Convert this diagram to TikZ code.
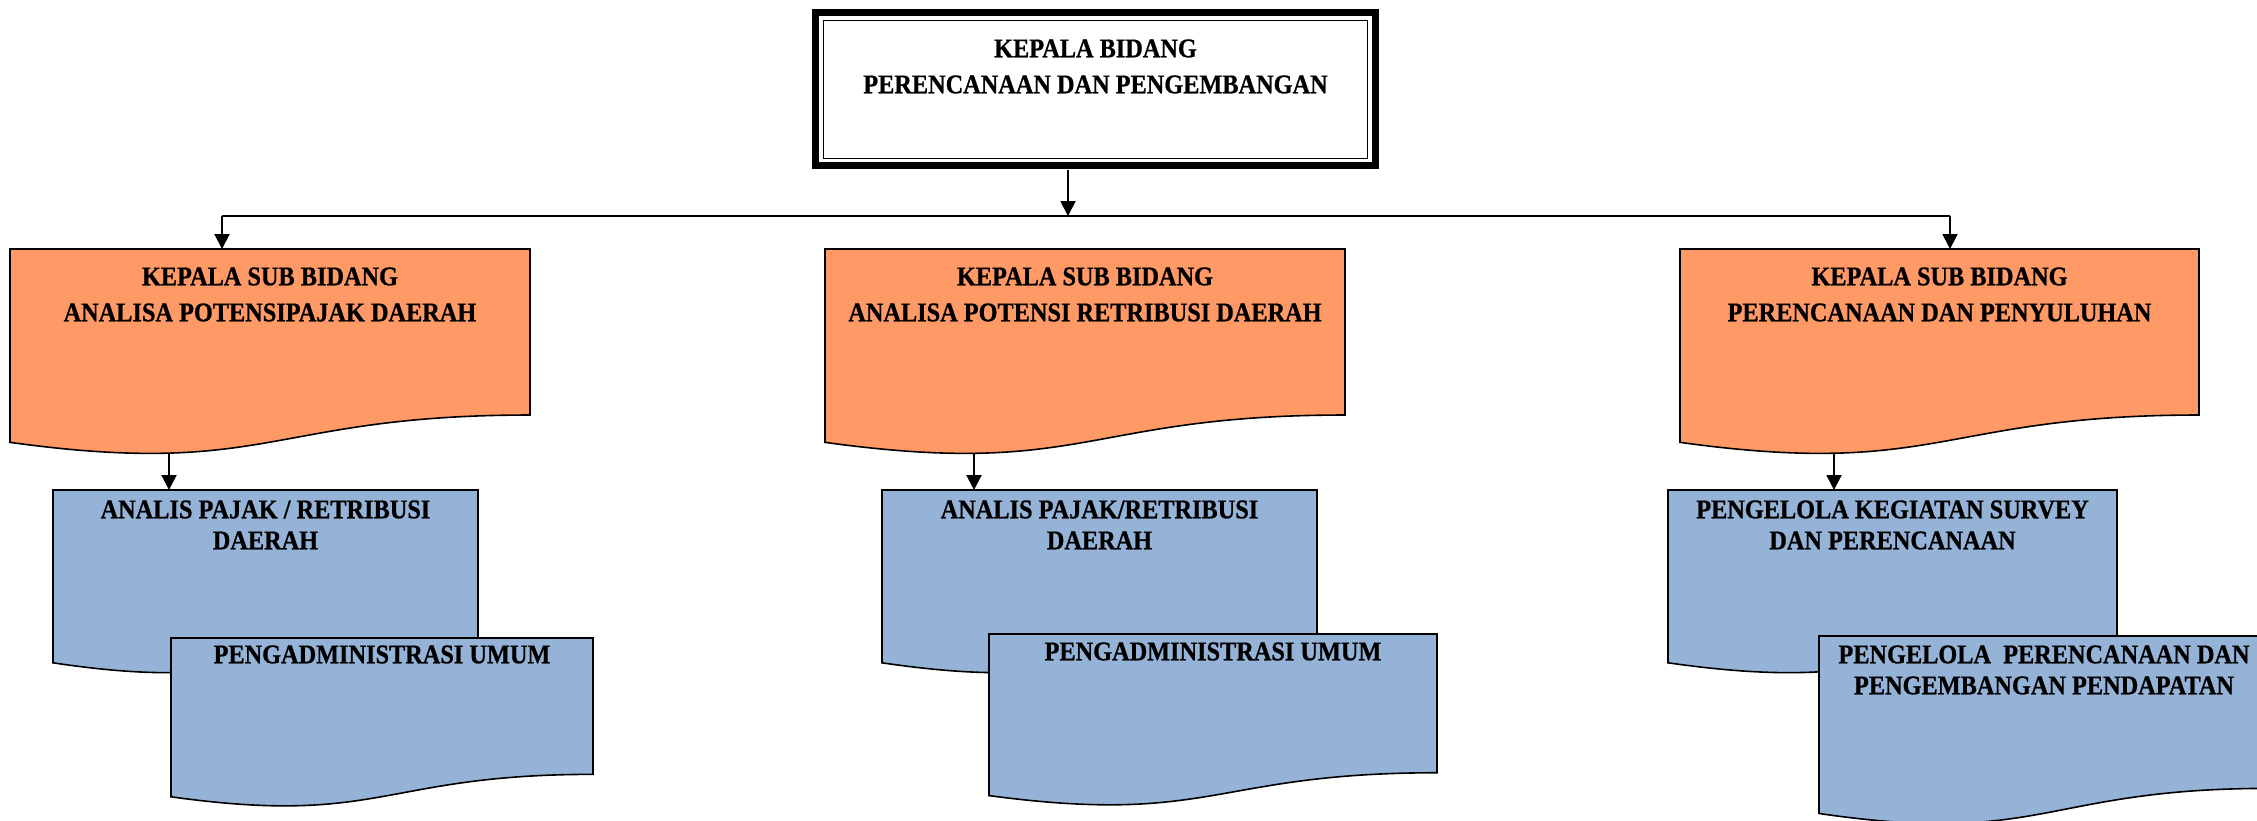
\documentclass[tikz,border=0pt]{standalone}
\usepackage{fontspec}
\newfontfamily\boxfont{Liberation Serif}[FakeStretch=0.9,FakeBold=0.8]
\usetikzlibrary{arrows.meta,backgrounds}
\definecolor{orangec}{RGB}{255,153,102}
\definecolor{bluec}{RGB}{149,179,215}
\tikzset{
  boxline/.style={draw=black, line width=0.8pt, line join=miter},
  lbl/.style={font=\boxfont\bfseries\fontsize{13.5pt}{18pt}\selectfont, align=center, inner sep=0pt},
  blbl/.style={font=\boxfont\bfseries\fontsize{13.5pt}{15.5pt}\selectfont, align=center, inner sep=0pt},
  conn/.style={draw=black, line width=1pt},
  arr/.style={conn, -{Triangle[width=7.5pt,length=7.5pt]}},
}
% name, x, y, w, h, fill colour, text style, text offset, text
\newcommand\docbox[9]{%
  \path[boxline, fill=#6] (#2,#3) -- ({#2+#4},#3) -- ({#2+#4},{#3+0.802*#5})
    .. controls ({#2+0.5*#4},{#3+0.802*#5}) and ({#2+0.5*#4},{#3+1.1075*#5}) .. (#2,{#3+0.934*#5}) -- cycle;
  \node[inner sep=0pt, minimum width={#4*0.5pt}, minimum height={#5*0.5pt}, anchor=north west] (#1) at (#2,#3) {};
  \node[#7, anchor=north] (#1-t) at ({#2+0.5*#4},{#3+#8}) {#9};
}
\begin{document}
\begin{tikzpicture}[x=0.5pt,y=-0.5pt]
\clip (0,0) rectangle (2257,820);
% top box
\node[inner sep=0pt, minimum width={567*0.5pt}, minimum height={160*0.5pt}, anchor=north west] (kb) at (812,9) {};
\draw[line width=3.5pt] (815.5,12.5) rectangle (1375.5,165.5);
\draw[line width=0.85pt] (823.5,20.5) rectangle (1367.5,158.5);
\node[lbl, anchor=north] (kb-t) at (1095.5,39) {KEPALA BIDANG\\PERENCANAAN DAN PENGEMBANGAN};
% orange boxes
\docbox{o1}{10}{249}{520}{207}{orangec}{lbl}{18}{KEPALA SUB BIDANG\\ANALISA POTENSIPAJAK DAERAH}
\docbox{o2}{825}{249}{520}{207}{orangec}{lbl}{18}{KEPALA SUB BIDANG\\ANALISA POTENSI RETRIBUSI DAERAH}
\docbox{o3}{1680}{249}{519}{207}{orangec}{lbl}{18}{KEPALA SUB BIDANG\\PERENCANAAN DAN PENYULUHAN}
% blue boxes
\docbox{b1a}{53}{490}{425}{185}{bluec}{blbl}{10}{ANALIS PAJAK / RETRIBUSI\\DAERAH}
\docbox{b1b}{171}{638}{422}{170}{bluec}{blbl}{7}{PENGADMINISTRASI UMUM}
\docbox{b2a}{882}{490}{435}{185}{bluec}{blbl}{10}{ANALIS PAJAK/RETRIBUSI\\DAERAH}
\docbox{b2b}{989}{634}{448}{173}{bluec}{blbl}{8}{PENGADMINISTRASI UMUM}
\docbox{b3a}{1668}{490}{449}{185}{bluec}{blbl}{10}{PENGELOLA KEGIATAN SURVEY\\DAN PERENCANAAN}
\docbox{b3b}{1819}{636}{450}{190}{bluec}{blbl}{9}{PENGELOLA~ PERENCANAAN DAN\\PENGEMBANGAN PENDAPATAN}
% connectors
\coordinate (j0) at (1068,216);
\coordinate (jl) at (222,216);
\coordinate (jr) at (1950,216);
\coordinate (o1b) at (169,440);
\coordinate (o2b) at (974,440);
\coordinate (o3b) at (1834,440);
\begin{scope}[on background layer]
\fill[white] (0,0) rectangle (2257,820);
\draw[arr] (kb.south -| j0) -- (j0);
\draw[conn] (jl) -- (jr);
\draw[arr] (jl) -- (jl |- o1.north);
\draw[arr] (jr) -- (jr |- o3.north);
\draw[arr] (o1b) -- (o1b |- b1a.north);
\draw[arr] (o2b) -- (o2b |- b2a.north);
\draw[arr] (o3b) -- (o3b |- b3a.north);
\end{scope}
\end{tikzpicture}
\end{document}
